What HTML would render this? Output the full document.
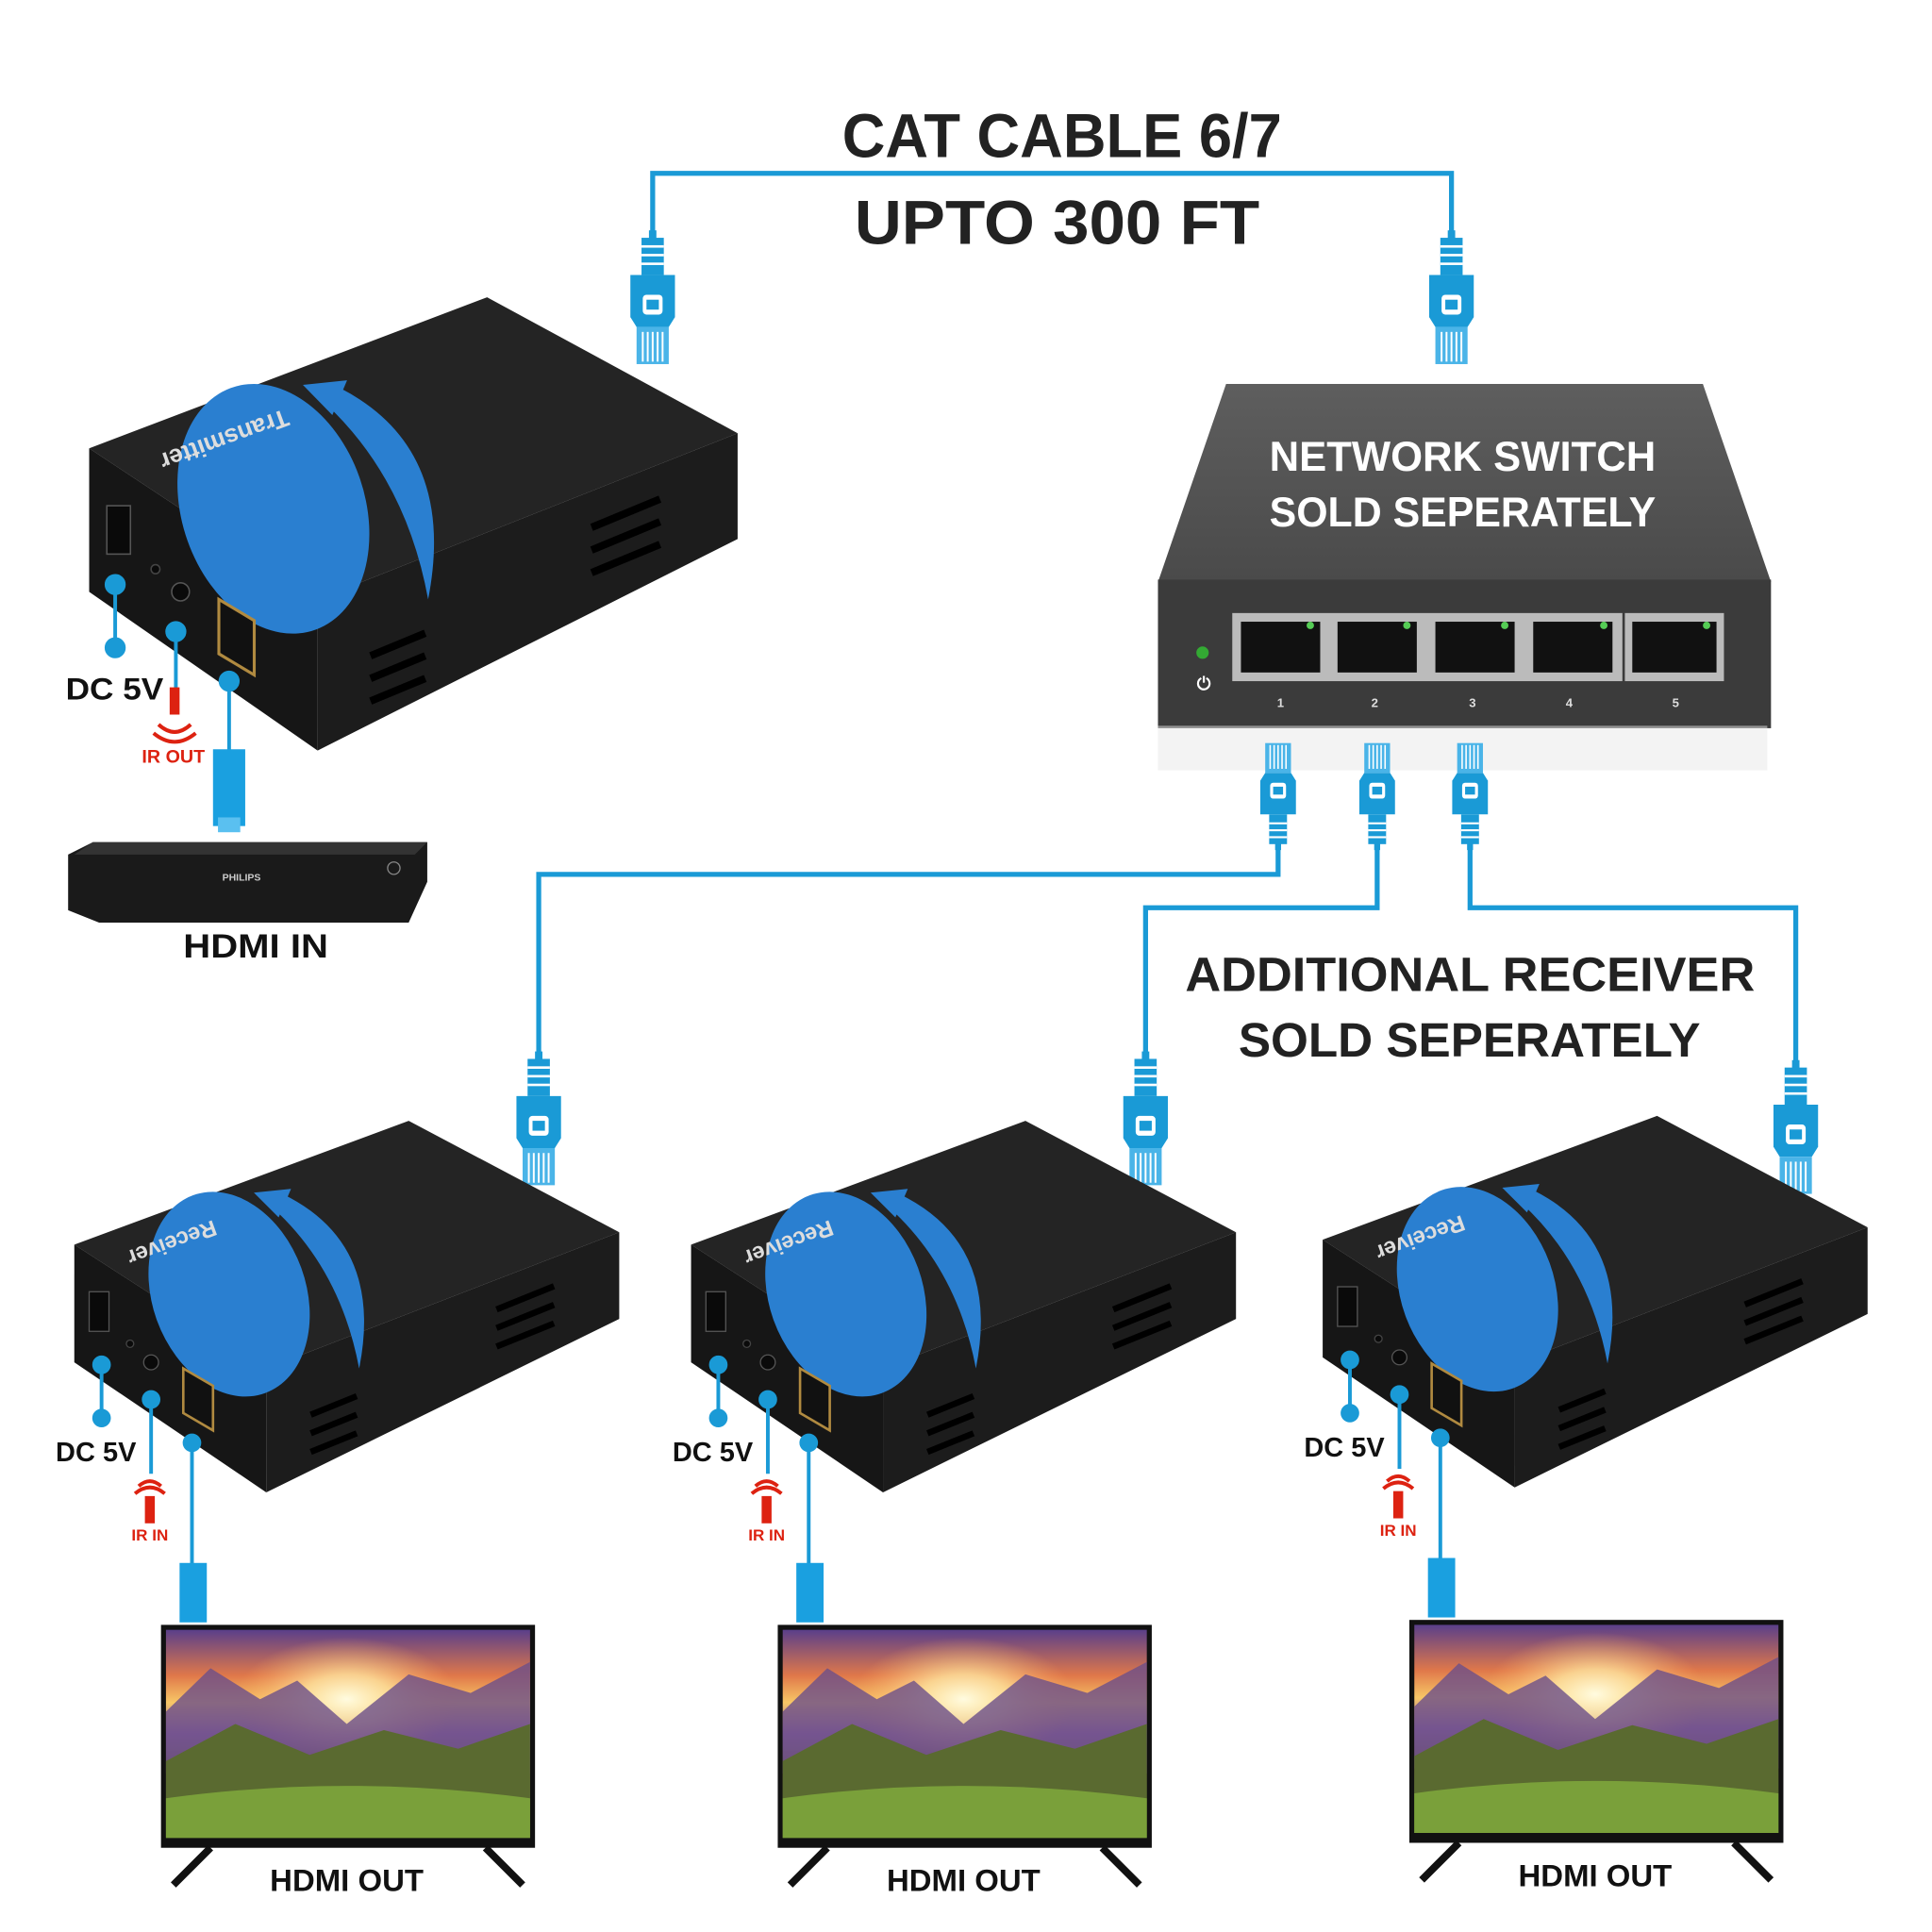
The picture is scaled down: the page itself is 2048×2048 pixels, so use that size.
<!DOCTYPE html>
<html><head><meta charset="utf-8"><style>
html,body{margin:0;padding:0;background:#fff;}
svg{display:block;}
text{font-family:"Liberation Sans",sans-serif;font-weight:bold;}
</style></head><body>
<svg width="2048" height="2048" viewBox="0 0 1560 1560" xmlns="http://www.w3.org/2000/svg">
<defs>
<linearGradient id="sky" x1="0" y1="0" x2="0" y2="1">
<stop offset="0" stop-color="#5a3f8a"/><stop offset="0.22" stop-color="#e0784a"/><stop offset="0.35" stop-color="#f7c766"/><stop offset="0.5" stop-color="#9a6aa8"/><stop offset="0.68" stop-color="#6a5a3a"/><stop offset="0.82" stop-color="#6a8a3a"/><stop offset="1" stop-color="#4a7a2a"/>
</linearGradient>
<radialGradient id="sun" cx="0.5" cy="0.5" r="0.5"><stop offset="0" stop-color="#fffbe0"/><stop offset="0.4" stop-color="#ffe6a0" stop-opacity="0.8"/><stop offset="1" stop-color="#ffb060" stop-opacity="0"/></radialGradient>
<linearGradient id="swtop" x1="0" y1="0" x2="0" y2="1"><stop offset="0" stop-color="#5e5e5e"/><stop offset="1" stop-color="#4a4a4a"/></linearGradient>
<g id="plug">
<rect x="-3" y="-6" width="6" height="8" fill="#1a9ad6"/>
<rect x="-9" y="0" width="18" height="30" fill="#1a9ad6"/>
<rect x="-9" y="6" width="18" height="2" fill="#fff"/><rect x="-9" y="13" width="18" height="2" fill="#fff"/><rect x="-9" y="20" width="18" height="2" fill="#fff"/>
<path d="M-18 30 H18 V64 L13 72 H-13 L-18 64 Z" fill="#1a9ad6"/>
<rect x="-8" y="46" width="16" height="16" rx="3" fill="#fff"/><rect x="-5" y="50" width="10" height="8" fill="#1a9ad6"/>
<rect x="-13" y="72" width="26" height="30" fill="#4ab4e8"/>
<g stroke="#fff" stroke-width="1.5"><line x1="-8" y1="76" x2="-8" y2="100"/><line x1="-4" y1="76" x2="-4" y2="100"/><line x1="0" y1="76" x2="0" y2="100"/><line x1="4" y1="76" x2="4" y2="100"/><line x1="8" y1="76" x2="8" y2="100"/></g>
</g>
<g id="tv">
<rect x="0" y="0" width="302" height="180" fill="#111"/>
<rect x="4" y="4" width="294" height="168" fill="url(#sky)"/>
<ellipse cx="150" cy="60" rx="90" ry="50" fill="url(#sun)"/>
<path d="M4 70 L40 35 L80 60 L110 45 L150 80 L200 40 L250 55 L298 30 V120 H4 Z" fill="#6b4f8a" opacity="0.8"/>
<path d="M4 110 L60 80 L120 105 L180 85 L240 100 L298 80 V172 H4 Z" fill="#5a6a30"/>
<path d="M4 140 Q150 120 298 140 V172 H4 Z" fill="#7aa03a"/>
<path d="M40 180 L10 210 M262 180 L292 210" stroke="#111" stroke-width="6"/>
</g>
<g id="box">
<path d="M0 100 L270 0 L440 90 L155 200 Z" fill="#242424"/>
<path d="M0 100 L155 200 L155 300 L0 195 Z" fill="#161616"/>
<path d="M155 200 L440 90 L440 160 L155 300 Z" fill="#1c1c1c"/>
<ellipse cx="125" cy="140" rx="62" ry="85" transform="rotate(-20 125 140)" fill="#2a7fd0"/>
<path d="M170 60 Q250 100 230 200 Q215 120 160 70 Z" fill="#2a7fd0"/>
<path d="M145 58 L175 55 L165 78 Z" fill="#2a7fd0"/>
<g fill="#000"><rect x="190" y="235" width="40" height="5" transform="rotate(-22 190 235)"/><rect x="190" y="250" width="40" height="5" transform="rotate(-22 190 250)"/><rect x="190" y="265" width="40" height="5" transform="rotate(-22 190 265)"/><rect x="340" y="150" width="50" height="5" transform="rotate(-22 340 150)"/><rect x="340" y="165" width="50" height="5" transform="rotate(-22 340 165)"/><rect x="340" y="180" width="50" height="5" transform="rotate(-22 340 180)"/></g>
<rect x="12" y="138" width="16" height="32" fill="#0a0a0a" stroke="#555"/>
<path d="M88 200 L112 214 L112 250 L88 236 Z" fill="#111" stroke="#b08a40" stroke-width="2"/>
<circle cx="62" cy="195" r="6" fill="#0a0a0a" stroke="#555"/>
<circle cx="45" cy="180" r="3" fill="#0a0a0a" stroke="#444"/>
</g>
</defs>

<!-- title -->
<text x="680" y="127" font-size="50" textLength="355" lengthAdjust="spacingAndGlyphs" fill="#222">CAT CABLE 6/7</text>
<text x="690" y="197" font-size="50" textLength="327" lengthAdjust="spacingAndGlyphs" fill="#222">UPTO 300 FT</text>
<path d="M527 195 V140 H1172 V195" fill="none" stroke="#1a9ad6" stroke-width="4"/>
<use href="#plug" x="527" y="192"/>
<use href="#plug" x="1172" y="192"/>

<!-- transmitter -->
<g transform="translate(72,240) scale(1.19,1.22)"><use href="#box"/></g>
<text x="230" y="330" font-size="20" fill="#ddd" font-weight="normal" transform="rotate(160 230 330)">Transmitter</text>
<g stroke="#1a9ad6" stroke-width="3" fill="#1a9ad6">
<line x1="93" y1="470" x2="93" y2="525"/><circle cx="93" cy="472" r="7"/><circle cx="93" cy="523" r="7"/>
<line x1="142" y1="510" x2="142" y2="560"/><circle cx="142" cy="510" r="7"/>
<line x1="185" y1="550" x2="185" y2="610"/><circle cx="185" cy="550" r="7"/>
</g>
<rect x="172" y="605" width="26" height="62" fill="#1aa0e0"/><rect x="176" y="660" width="18" height="12" fill="#5ac0f0"/>
<text x="53" y="565" font-size="25" textLength="79" lengthAdjust="spacingAndGlyphs" fill="#111">DC 5V</text>
<rect x="137" y="555" width="8" height="22" fill="#d21"/>
<path d="M128 585 Q141 597 154 585 M124 592 Q141 606 158 592" stroke="#d21" stroke-width="3" fill="none"/>
<text x="140" y="616" font-size="15" text-anchor="middle" fill="#d21" font-weight="normal">IR OUT</text>

<!-- philips -->
<path d="M55 690 L75 680 H345 V712 L330 745 H80 L55 735 Z" fill="#1a1a1a"/>
<path d="M75 680 H345 L335 690 H60 Z" fill="#333"/>
<text x="195" y="711" font-size="8" fill="#ccc" text-anchor="middle">PHILIPS</text>
<circle cx="318" cy="701" r="5" fill="none" stroke="#888"/>
<text x="148" y="773" font-size="27" textLength="117" lengthAdjust="spacingAndGlyphs" fill="#111">HDMI IN</text>

<!-- switch -->
<path d="M990 310 H1375 L1430 470 H935 Z" fill="url(#swtop)"/>
<rect x="935" y="468" width="495" height="120" fill="#3b3b3b"/>
<rect x="935" y="586" width="492" height="36" fill="#e8e8e8" opacity="0.5"/>
<text x="1025" y="380" font-size="34" textLength="312" lengthAdjust="spacingAndGlyphs" fill="#fff">NETWORK SWITCH</text>
<text x="1025" y="425" font-size="34" textLength="312" lengthAdjust="spacingAndGlyphs" fill="#fff">SOLD SEPERATELY</text>
<rect x="995" y="495" width="315" height="55" fill="#bbb"/>
<rect x="1312" y="495" width="80" height="55" fill="#bbb"/>
<g fill="#111">
<rect x="1002" y="502" width="64" height="41"/><rect x="1080" y="502" width="64" height="41"/><rect x="1159" y="502" width="64" height="41"/><rect x="1238" y="502" width="64" height="41"/><rect x="1318" y="502" width="68" height="41"/>
</g>
<g fill="#5c5"><circle cx="1058" cy="505" r="3"/><circle cx="1136" cy="505" r="3"/><circle cx="1215" cy="505" r="3"/><circle cx="1295" cy="505" r="3"/><circle cx="1378" cy="505" r="3"/></g>
<circle cx="971" cy="527" r="5" fill="#3a3"/>
<text x="972" y="557" font-size="14" fill="#fff" text-anchor="middle">⏻</text>
<g font-size="10" fill="#ddd" font-weight="normal" text-anchor="middle"><text x="1034" y="571">1</text><text x="1110" y="571">2</text><text x="1189" y="571">3</text><text x="1267" y="571">4</text><text x="1353" y="571">5</text></g>

<g transform="translate(1032,680) scale(0.8,-0.8)"><use href="#plug" y="-2"/></g>
<g transform="translate(1112,680) scale(0.8,-0.8)"><use href="#plug" y="-2"/></g>
<g transform="translate(1187,680) scale(0.8,-0.8)"><use href="#plug" y="-2"/></g>
<path d="M1032 678 V706 H435 V860 M1112 678 V733 H925 V860 M1187 678 V733 H1450 V865" fill="none" stroke="#1a9ad6" stroke-width="4"/>
<use href="#plug" x="435" y="855"/><use href="#plug" x="925" y="855"/><use href="#plug" x="1450" y="862"/>
<text x="957" y="800" font-size="39" textLength="460" lengthAdjust="spacingAndGlyphs" fill="#222">ADDITIONAL RECEIVER</text>
<text x="1000" y="853" font-size="39" textLength="373" lengthAdjust="spacingAndGlyphs" fill="#222">SOLD SEPERATELY</text>

<!-- receivers -->
<g id="rx">
<g transform="translate(60,905)"><use href="#box"/></g>
<text x="172" y="985" font-size="18" fill="#ddd" font-weight="normal" transform="rotate(160 172 985)">Receiver</text>
<g stroke="#1a9ad6" stroke-width="3" fill="#1a9ad6">
<line x1="82" y1="1100" x2="82" y2="1145"/><circle cx="82" cy="1102" r="6"/><circle cx="82" cy="1145" r="6"/>
<line x1="122" y1="1130" x2="122" y2="1190"/><circle cx="122" cy="1130" r="6"/>
<line x1="155" y1="1165" x2="155" y2="1265"/><circle cx="155" cy="1165" r="6"/>
</g>
<rect x="145" y="1262" width="22" height="48" fill="#1aa0e0"/>
<text x="45" y="1180" font-size="22" textLength="65" lengthAdjust="spacingAndGlyphs" fill="#111">DC 5V</text>
<path d="M112 1200 Q121 1192 130 1200 M109 1206 Q121 1196 133 1206" stroke="#d21" stroke-width="3" fill="none"/>
<rect x="117" y="1208" width="8" height="22" fill="#d21"/>
<text x="121" y="1244" font-size="13" text-anchor="middle" fill="#d21" font-weight="normal">IR IN</text>
<g transform="translate(130,1312)"><use href="#tv"/></g>
<text x="218" y="1527" font-size="25" textLength="124" lengthAdjust="spacingAndGlyphs" fill="#111">HDMI OUT</text>
</g>
<use href="#rx" x="498" y="0"/>
<use href="#rx" x="1008" y="-4"/>
</svg>
</body></html>
